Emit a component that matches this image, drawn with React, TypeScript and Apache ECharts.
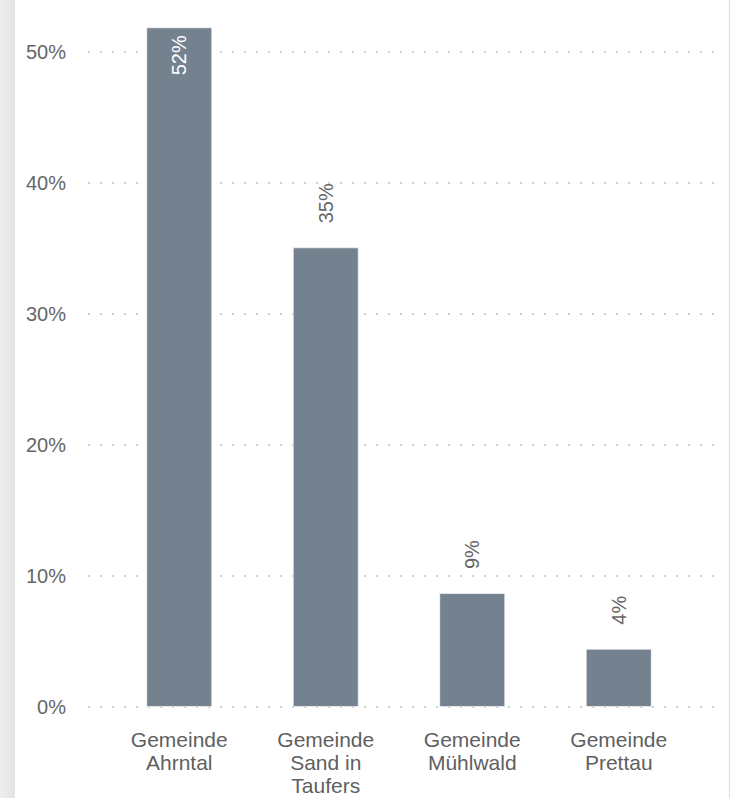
import React, { useEffect, useRef } from "react";
import * as echarts from "echarts";

const categories = [
  "Gemeinde\nAhrntal",
  "Gemeinde\nSand in\nTaufers",
  "Gemeinde\nMühlwald",
  "Gemeinde\nPrettau",
];
const values = [51.9, 35.1, 8.7, 4.45];
const insideLabel = [true, false, false, false];
const yTicks = [0, 10, 20, 30, 40, 50];

export default function App() {
  const ref = useRef<HTMLDivElement>(null);

  useEffect(() => {
    if (!ref.current) return;
    const chart = echarts.init(ref.current, undefined, { renderer: "svg" });
    const font = "Liberation Sans, Arial, sans-serif";
    const yMax = 52;
    chart.setOption({
      animation: false,
      textStyle: { fontFamily: font },
      grid: [
        { left: 88, right: 13, top: 26, bottom: 91 },
        { left: 106, right: 38, top: 26, bottom: 91 },
      ],
      xAxis: [
        { type: "value", gridIndex: 0, show: false, min: 0, max: 1 },
        {
          type: "category",
          gridIndex: 1,
          data: categories,
          axisLine: { show: false },
          axisTick: { show: false },
          axisLabel: {
            fontSize: 21,
            lineHeight: 23,
            color: "#5f5f5f",
            margin: 21,
            fontFamily: font,
          },
        },
      ],
      yAxis: [
        {
          type: "value",
          gridIndex: 0,
          min: 0,
          max: yMax,
          interval: 10,
          axisLine: { show: false },
          axisTick: { show: false },
          axisLabel: {
            fontSize: 20,
            color: "#666666",
            margin: 22,
            fontFamily: font,
            showMaxLabel: false,
            formatter: (v: number) => (yTicks.includes(v) ? v + "%" : ""),
          },
          splitLine: {
            show: true,
            showMaxLine: false,
            lineStyle: { color: "#cfcfcf", width: 2, type: [2, 10] },
          },
        },
        {
          type: "value",
          gridIndex: 1,
          min: 0,
          max: yMax,
          show: false,
          splitLine: { show: false },
        },
      ],
      series: [
        {
          type: "bar",
          xAxisIndex: 1,
          yAxisIndex: 1,
          barWidth: 66,
          itemStyle: {
            color: "#74828f",
            borderColor: "rgba(255,255,255,0.6)",
            borderWidth: 1,
          },
          data: values.map((v, i) => ({
            value: v,
            label: insideLabel[i]
              ? {
                  show: true,
                  position: "insideTop",
                  distance: 8,
                  rotate: 90,
                  align: "right",
                  verticalAlign: "middle",
                  color: "#ffffff",
                  fontSize: 20,
                  fontFamily: font,
                  formatter: (p: any) => Math.round(p.value) + "%",
                }
              : {
                  show: true,
                  position: "top",
                  distance: 24,
                  rotate: 90,
                  align: "left",
                  verticalAlign: "middle",
                  color: "#666666",
                  fontSize: 20,
                  fontFamily: font,
                  formatter: (p: any) => Math.round(p.value) + "%",
                },
          })),
        },
      ],
    });
    return () => chart.dispose();
  }, []);

  return (
    <div
      style={{
        position: "fixed",
        left: 0,
        top: 0,
        width: 730,
        height: 798,
        background: "#ffffff",
        overflow: "hidden",
      }}
    >
      <div
        style={{
          position: "absolute",
          left: 0,
          top: 0,
          width: 15,
          height: 798,
          background: "linear-gradient(to right, #ededed, #e4e4e4)",
        }}
      />
      <div
        style={{
          position: "absolute",
          left: 729,
          top: 0,
          width: 1,
          height: 798,
          background: "#dddddd",
        }}
      />
      <div
        ref={ref}
        style={{ position: "absolute", left: 0, top: 0, width: 730, height: 798 }}
      />
    </div>
  );
}
